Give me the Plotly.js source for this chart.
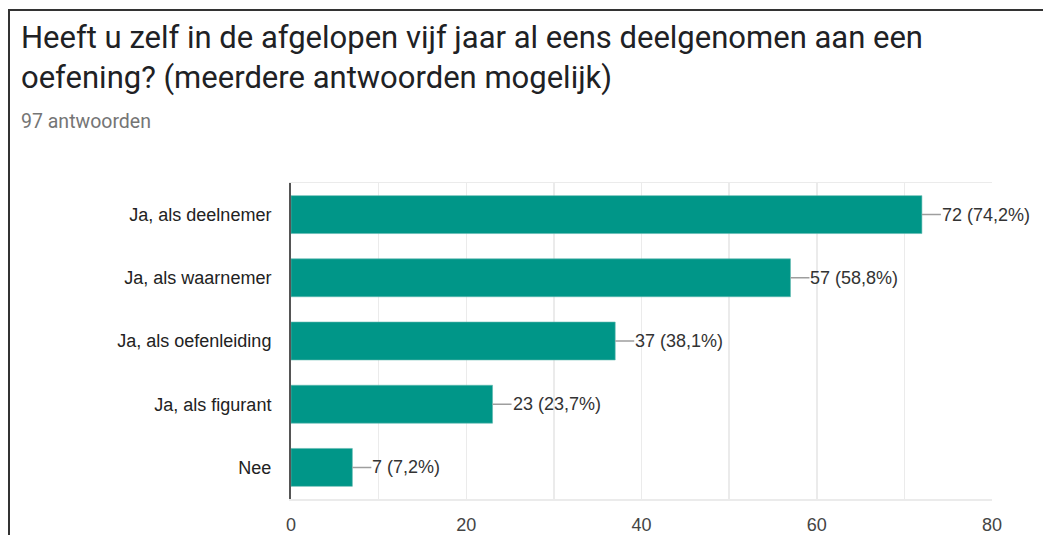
<!DOCTYPE html>
<html>
<head>
<meta charset="utf-8">
<script src="https://cdn.plot.ly/plotly-3.0.1.min.js"></script>
<style>
  html, body { margin: 0; padding: 0; background: #fff; }
  #wrap { position: relative; width: 1043px; height: 535px; overflow: hidden; }
  #chart { position: absolute; left: 0; top: 0; width: 1043px; height: 535px; }
  /* kader links en boven, zoals in de schermafbeelding */
  #frame {
    position: absolute; left: 8px; top: 9px; width: 1100px; height: 600px;
    border-left: 2px solid #333; border-top: 2px solid #333;
    pointer-events: none;
  }
</style>
</head>
<body>
<div id="wrap">
  <div id="chart"></div>
  <div id="frame"></div>
</div>
<script>
// gegevens uit de grafiek
const answers = [
  "Ja, als deelnemer",
  "Ja, als waarnemer",
  "Ja, als oefenleiding",
  "Ja, als figurant",
  "Nee",
];
const counts = [72, 57, 37, 23, 7];
const percentLabels = ["74,2%", "58,8%", "38,1%", "23,7%", "7,2%"];
const xTicks = [0, 20, 40, 60, 80];

const titleText = "Heeft u zelf in de afgelopen vijf jaar al eens deelgenomen aan een<br>oefening? (meerdere antwoorden mogelijk)";
const subtitleText = "97 antwoorden";

const BAR_COLOR = "#009688";
const LABEL_FONT = "Liberation Sans, Arial, sans-serif";

// plotgebied in pixels (voor het omrekenen van kop-posities)
const PLOT_LEFT = 291;
const PLOT_WIDTH = 701;
const PLOT_BOTTOM = 499;
const PLOT_HEIGHT = 316;
const paperX = (px) => (px - PLOT_LEFT) / PLOT_WIDTH;
const paperY = (py) => (PLOT_BOTTOM - py) / PLOT_HEIGHT;

const trace = {
  type: "bar",
  orientation: "h",
  x: counts,
  y: answers,
  marker: { color: BAR_COLOR, line: { color: "#5fb9b0", width: 0.6 } },
  hoverinfo: "skip",
};

// waarde-labels met een kort grijs lijntje vanaf het einde van de balk
const valueNotes = counts.map((value, i) => ({
  x: value,
  y: answers[i],
  xref: "x",
  yref: "y",
  text: `${value} (${percentLabels[i]})`,
  showarrow: true,
  arrowhead: 0,
  arrowwidth: 1.5,
  arrowcolor: "#9e9e9e",
  ax: 19,
  ay: 0,
  xanchor: "left",
  borderpad: 0,
  font: { family: LABEL_FONT, size: 18, color: "#333" },
}));

const layout = {
  width: 1043,
  height: 535,
  margin: { l: PLOT_LEFT, r: 1043 - PLOT_LEFT - PLOT_WIDTH, t: PLOT_BOTTOM - PLOT_HEIGHT, b: 535 - PLOT_BOTTOM },
  paper_bgcolor: "#fff",
  plot_bgcolor: "#fff",
  showlegend: false,
  bargap: 0.4,
  annotations: [
    {
      text: titleText,
      xref: "paper",
      yref: "paper",
      x: paperX(19),
      xanchor: "left",
      align: "left",
      y: paperY(17),
      yanchor: "top",
      showarrow: false,
      font: { family: "Roboto, sans-serif", size: 31, color: "#202124" },
    },
    {
      text: subtitleText,
      xref: "paper",
      yref: "paper",
      x: paperX(19),
      xanchor: "left",
      y: paperY(121),
      yanchor: "middle",
      showarrow: false,
      font: { family: "Roboto, sans-serif", size: 19.5, color: "#757575" },
    },
    ...valueNotes,
  ],
  xaxis: {
    range: [0, 80],
    tickvals: xTicks,
    ticktext: xTicks.map(String),
    ticks: "outside",
    ticklen: 9,
    tickcolor: "rgba(0,0,0,0)",
    tickfont: { family: LABEL_FONT, size: 18, color: "#444" },
    showgrid: true,
    gridcolor: "#ebebeb",
    gridwidth: 1.5,
    minor: { dtick: 10, showgrid: true, gridcolor: "#ebebeb", gridwidth: 1.5 },
    showline: true,
    linecolor: "#ebebeb",
    linewidth: 1.5,
    mirror: true,
    zeroline: false,
    fixedrange: true,
  },
  yaxis: {
    categoryorder: "array",
    categoryarray: answers.slice().reverse(),
    ticks: "outside",
    ticklen: 14,
    tickcolor: "rgba(0,0,0,0)",
    tickfont: { family: LABEL_FONT, size: 18, color: "#222" },
    showgrid: false,
    showline: true,
    linecolor: "#555",
    linewidth: 2,
    fixedrange: true,
  },
};

Plotly.newPlot("chart", [trace], layout, { displayModeBar: false, staticPlot: true });
</script>
</body>
</html>
